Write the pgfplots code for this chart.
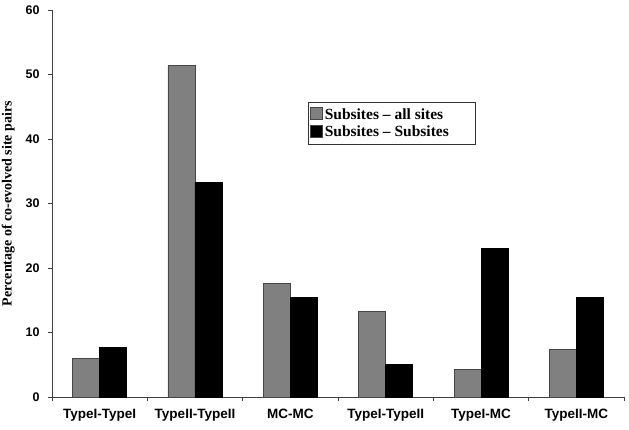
\documentclass[border=0pt]{standalone}
\usepackage{fontspec}
\setmainfont{Liberation Serif}
\newfontfamily\arial{Liberation Sans}
\usepackage{pgfplots}
\pgfplotsset{compat=1.18}
\definecolor{bargray}{RGB}{128,128,128}
\definecolor{edgegray}{RGB}{70,70,70}
\begin{document}
\begin{tikzpicture}[x=1pt,y=1pt]
\begin{axis}[
  scale only axis,
  width=572pt, height=387pt,
  at={(0,0)},
  xmin=0.5, xmax=6.5,
  ymin=0, ymax=60,
  ytick={0,10,...,60},
  xtick={1,...,6},
  xticklabels={TypeI-TypeI,TypeII-TypeII,MC-MC,TypeI-TypeII,TypeI-MC,TypeII-MC},
  minor xtick={0.5,1.5,...,6.5},
  x tick style={draw=none},
  minor x tick style={draw=black!75, line width=0.6pt},
  y tick style={draw=black!75, line width=0.6pt},
  major tick length=4pt,
  minor tick length=4pt,
  tick align=outside,
  tick pos=left,
  axis x line*=bottom,
  axis y line*=left,
  axis line style={draw=black!75, line width=0.6pt},
  x tick label style={font=\arial\bfseries\fontsize{13.5}{15}\selectfont, yshift=-5pt},
  y tick label style={font=\arial\bfseries\fontsize{12.5}{14}\selectfont, xshift=-5pt},
  /pgf/number format/assume math mode=true,
  ylabel={Percentage of co-evolved site pairs},
  ylabel style={font=\bfseries\fontsize{14}{16}\selectfont, inner sep=0pt, at={(axis description cs:0,0.5)}, anchor=south, xshift=0pt, yshift=37pt},
  ybar=0pt,
  bar width=27pt,
  legend style={at={(256pt,295pt)}, anchor=north west, draw=black!80, line width=0.6pt,
    font=\bfseries\fontsize{15.5}{17}\selectfont, inner xsep=2pt, inner ysep=4pt, row sep=1.5pt, cells={anchor=west}},
  legend image code/.code={\draw[#1, draw=edgegray] (0pt,-5pt) rectangle (12pt,7pt);},
]
\addplot[fill=bargray, draw=edgegray, line width=0.5pt] coordinates {(1,6.0) (2,51.4) (3,17.6) (4,13.3) (5,4.25) (6,7.35)};
\addplot[fill=black, draw=black, line width=0.5pt] coordinates {(1,7.7) (2,33.3) (3,15.4) (4,5.1) (5,23.0) (6,15.4)};
\legend{\makebox[146pt][l]{Subsites -- all sites}, \makebox[146pt][l]{Subsites -- Subsites}}
\end{axis}
\path (-52pt,-32pt) rectangle (577pt,397pt);
\end{tikzpicture}
\end{document}
